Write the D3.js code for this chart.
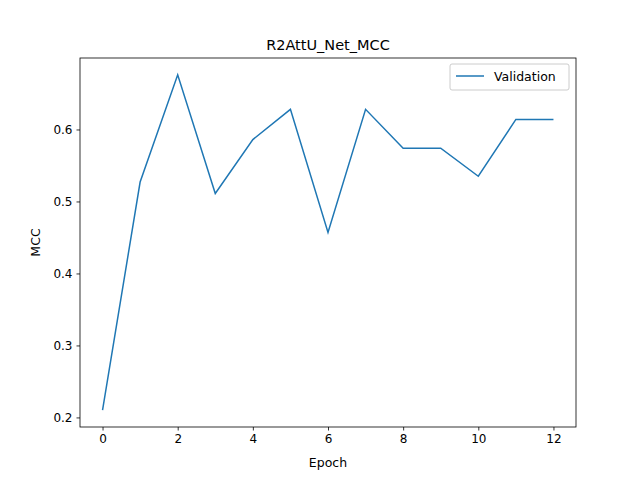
<!DOCTYPE html>
<html><head><meta charset="utf-8">
<script src="https://cdn.jsdelivr.net/npm/d3@7"></script>
<style>body{margin:0;background:#fff}text{font-family:"DejaVu Sans",sans-serif}</style>
</head><body><svg width="640" height="480"></svg>
<script>
// validation MCC per epoch
var epochs = [0,1,2,3,4,5,6,7,8,9,10,11,12];
var mcc = [0.210,0.527,0.676,0.511,0.586,0.628,0.457,0.628,0.574,0.574,0.535,0.614,0.614];
var xTicks = [0,2,4,6,8,10,12];
var yTicks = [0.2,0.3,0.4,0.5,0.6];

var svg = d3.select("svg");
var L = 80, R = 576, T = 58, B = 427;
var ext = d3.extent(mcc), pad = (ext[1]-ext[0])*0.05;
var x = d3.scaleLinear().domain([-0.6,12.6]).range([L,R]);
var y = d3.scaleLinear().domain([ext[0]-pad, ext[1]+pad]).range([B,T]);

svg.append("g").attr("transform","translate(0,"+B+")")
  .call(d3.axisBottom(x).tickValues(xTicks).tickSize(3.5).tickPadding(4).tickFormat(d3.format("d")))
  .call(g=>g.select(".domain").remove());
svg.append("g").attr("transform","translate("+L+",0)")
  .call(d3.axisLeft(y).tickValues(yTicks).tickSize(3.5).tickPadding(4).tickFormat(d3.format(".1f")))
  .call(g=>g.select(".domain").remove());
svg.selectAll(".tick text").style("font-size","12px").attr("fill","#000");
svg.selectAll(".tick line").attr("stroke","#000").attr("stroke-width",0.8);

svg.append("path").datum(epochs)
  .attr("d", d3.line().x(d=>x(d)).y((d,i)=>y(mcc[i])))
  .attr("fill","none").attr("stroke","#1f77b4").attr("stroke-width",1.5);

svg.append("rect").attr("x",L).attr("y",T).attr("width",R-L).attr("height",B-T)
  .attr("fill","none").attr("stroke","#000").attr("stroke-width",0.8);

svg.append("text").attr("x",(L+R)/2).attr("y",T-8).attr("text-anchor","middle")
  .style("font-size","14.5px").text("R2AttU_Net_MCC");
svg.append("text").attr("x",(L+R)/2).attr("y",467).attr("text-anchor","middle")
  .style("font-size","12.5px").text("Epoch");
svg.append("text").attr("transform","translate(40,"+((T+B)/2)+") rotate(-90)")
  .attr("text-anchor","middle").style("font-size","12.5px").text("MCC");

var lg = svg.append("g").attr("transform","translate(450,64)");
lg.append("rect").attr("width",119).attr("height",26).attr("rx",2)
  .attr("fill","#fff").attr("stroke","#ccc");
lg.append("line").attr("x1",6).attr("x2",34).attr("y1",12).attr("y2",12)
  .attr("stroke","#1f77b4").attr("stroke-width",1.5);
lg.append("text").attr("x",44).attr("y",17).style("font-size","12.5px").text("Validation");
</script></body></html>
